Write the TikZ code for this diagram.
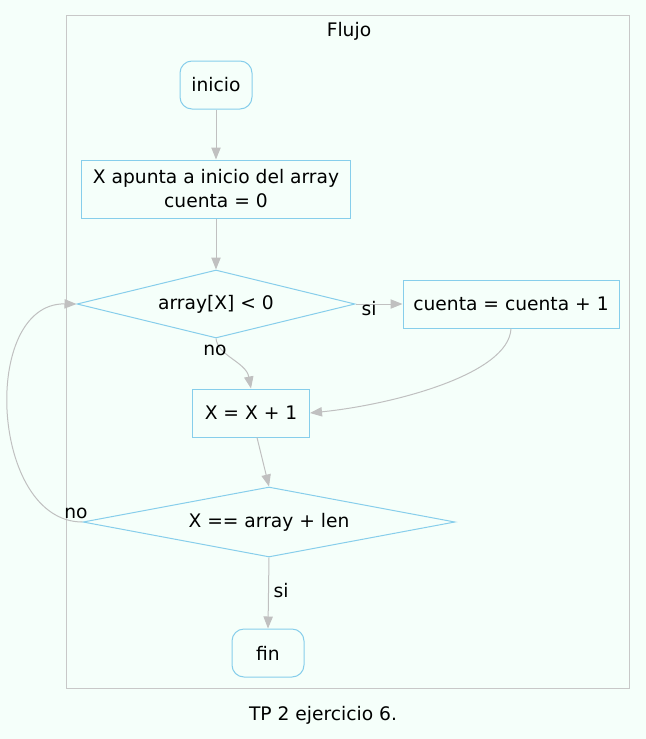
\documentclass[tikz,border=0pt]{standalone}
\usepackage{fontspec}
\setmainfont{DejaVu Sans}
\usetikzlibrary{arrows.meta, shapes.geometric}
\definecolor{mint}{RGB}{245,255,250}
\definecolor{skyline}{RGB}{135,206,235}
\definecolor{edgegray}{RGB}{192,192,192}
\definecolor{clustgray}{RGB}{200,200,200}
\newcommand{\flowfont}{\fontsize{14pt}{18pt}\selectfont}
\tikzstyle{fbox}=[rectangle, draw=skyline, line width=0.75pt,
  font=\flowfont, align=center, inner sep=0pt, minimum height=36pt]
\tikzstyle{term}=[fbox, rounded corners=9pt, minimum width=54pt]
\tikzstyle{cond}=[diamond, draw=skyline, line width=0.75pt,
  font=\flowfont, inner sep=0pt, aspect=4]
\tikzstyle{farr}=[-{Triangle[length=9pt, width=7pt]}, line width=0.75pt,
  color=edgegray]
\tikzstyle{lbl}=[font=\flowfont, inner sep=0pt]

\begin{document}
\begin{tikzpicture}[x=0.75pt, y=-0.75pt]
        % background and cluster
        \fill[mint] (0,0) rectangle (646,739);
        \useasboundingbox (0,0) rectangle (646,739);
        \draw[clustgray, line width=0.75pt] (66,15) rectangle (629,688);
        \node[lbl] (flujo) at (349,31) {Flujo};
        \node[term] (inicio) at (216,85) {inicio};
        \node[fbox, minimum width=201.75pt, minimum height=43.5pt]
          (init) at (216,189) {X apunta a inicio del array\\cuenta = 0};
        \node[cond, minimum width=208.5pt, minimum height=51pt]
          (negativo) at (216,304) {array[X] < 0};
        \node[fbox, minimum width=162pt] (cuenta) at (511,304)
          {cuenta = cuenta + 1};
        \node[fbox, minimum width=87.75pt] (avanza) at (251,413)
          {X = X + 1};
        \node[cond, minimum width=279pt, minimum height=52.5pt]
          (final) at (269,522) {X == array + len};
        \node[term] (fin) at (268,653) {fin};
        \draw[farr] (inicio) -- (init);
        \draw[farr] (init) -- (negativo);
        \draw[farr] (negativo.east) -- (cuenta.west);
        \draw[farr] (negativo.south) .. controls (218,356) and (246,362)
          .. (avanza.north);
        \draw[farr] (cuenta.south) .. controls (509,375) and (390,405)
          .. (avanza.east);
        \draw[farr] ([xshift=4.5pt]avanza.south) -- (final.north);
        \draw[farr] (final.west) .. controls (-10,522) and (-20,303)
          .. (negativo.west);
        \draw[farr] (final.south) -- (fin.north);
        \node[lbl] (si1) at (369,309) {si};
        \node[lbl] (no1) at (215,350) {no};
        \node[lbl] (no2) at (76,513) {no};
        \node[lbl] (si2) at (281,591) {si};
        \node[lbl] (titulo) at (323,715) {TP 2 ejercicio 6.};
      \end{tikzpicture}
\end{document}
